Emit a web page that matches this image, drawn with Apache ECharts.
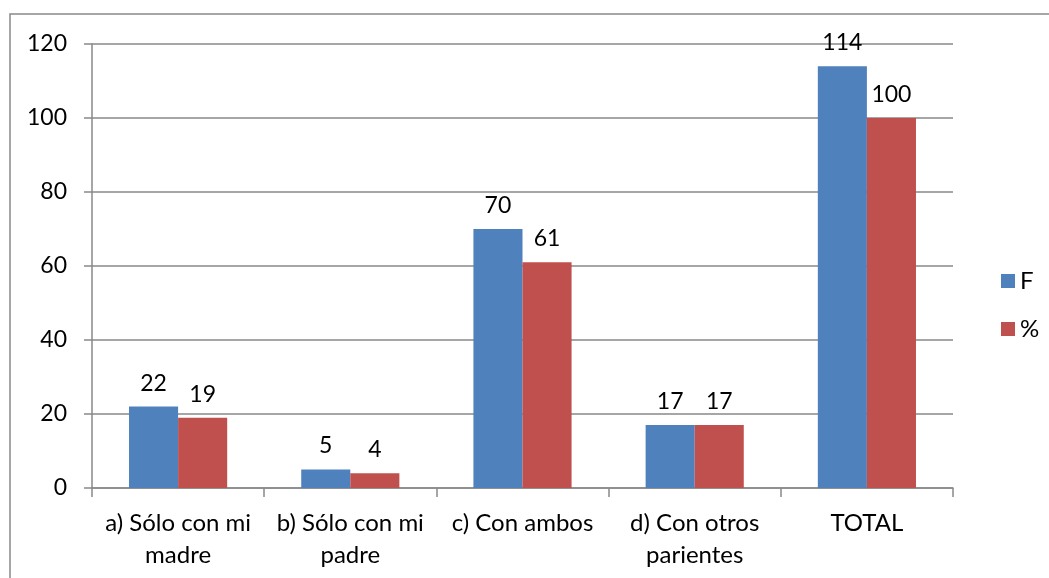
<!DOCTYPE html>
<html><head><meta charset="utf-8">
<script src="https://cdn.jsdelivr.net/npm/echarts@6/dist/echarts.min.js"></script>
<style>html,body{margin:0;padding:0;background:#fff}#c{width:1049px;height:578px}</style>
</head><body><div id="c"></div>
<script>
const categories = ['a) Sólo con mi\nmadre', 'b) Sólo con mi\npadre', 'c) Con ambos', 'd) Con otros\nparientes', 'TOTAL'];
const seriesNames = ['F', '%'];
const valuesF = [22, 5, 70, 17, 114];
const valuesPct = [19, 4, 61, 17, 100];
const yTicks = { min: 0, max: 120, interval: 20 };

const FONT = 'Lato';
const chart = echarts.init(document.getElementById('c'), null, { renderer: 'canvas' });
const lbl = { show: true, position: 'top', distance: 12, color: '#000', fontFamily: FONT, fontSize: 23 };
chart.setOption({
  animation: false,
  textStyle: { fontFamily: FONT },
  graphic: [{ type: 'rect', shape: { x: 10, y: 14, width: 1200, height: 800 }, style: { fill: 'none', stroke: '#898989', lineWidth: 1.5 } }],
  grid: { left: 92, right: 96, top: 44, bottom: 90 },
  legend: {
    orient: 'vertical', left: 996, top: 264, itemWidth: 14, itemHeight: 14, itemGap: 24,
    icon: 'rect', textStyle: { fontFamily: FONT, fontSize: 24, color: '#000' },
    data: seriesNames
  },
  xAxis: {
    type: 'category', data: categories,
    axisLine: { lineStyle: { color: '#898989', width: 1.5 } },
    axisTick: { show: true, alignWithLabel: false, length: 9, lineStyle: { color: '#898989', width: 1.5 } },
    axisLabel: { color: '#000', fontFamily: FONT, fontSize: 24, lineHeight: 32, margin: 19, interval: 0 }
  },
  yAxis: {
    type: 'value', min: yTicks.min, max: yTicks.max, interval: yTicks.interval,
    axisLine: { show: true, lineStyle: { color: '#898989', width: 1.5 } },
    axisTick: { show: true, length: 8, lineStyle: { color: '#898989', width: 1.5 } },
    axisLabel: { color: '#000', fontFamily: FONT, fontSize: 23, margin: 25 },
    splitLine: { lineStyle: { color: '#898989', width: 1.5 } }
  },
  series: [
    { name: seriesNames[0], type: 'bar', data: valuesF, barGap: '0%', barCategoryGap: '43%', itemStyle: { color: '#4F81BD' }, label: lbl },
    { name: seriesNames[1], type: 'bar', data: valuesPct, itemStyle: { color: '#C0504D' }, label: lbl }
  ]
});
</script></body></html>
